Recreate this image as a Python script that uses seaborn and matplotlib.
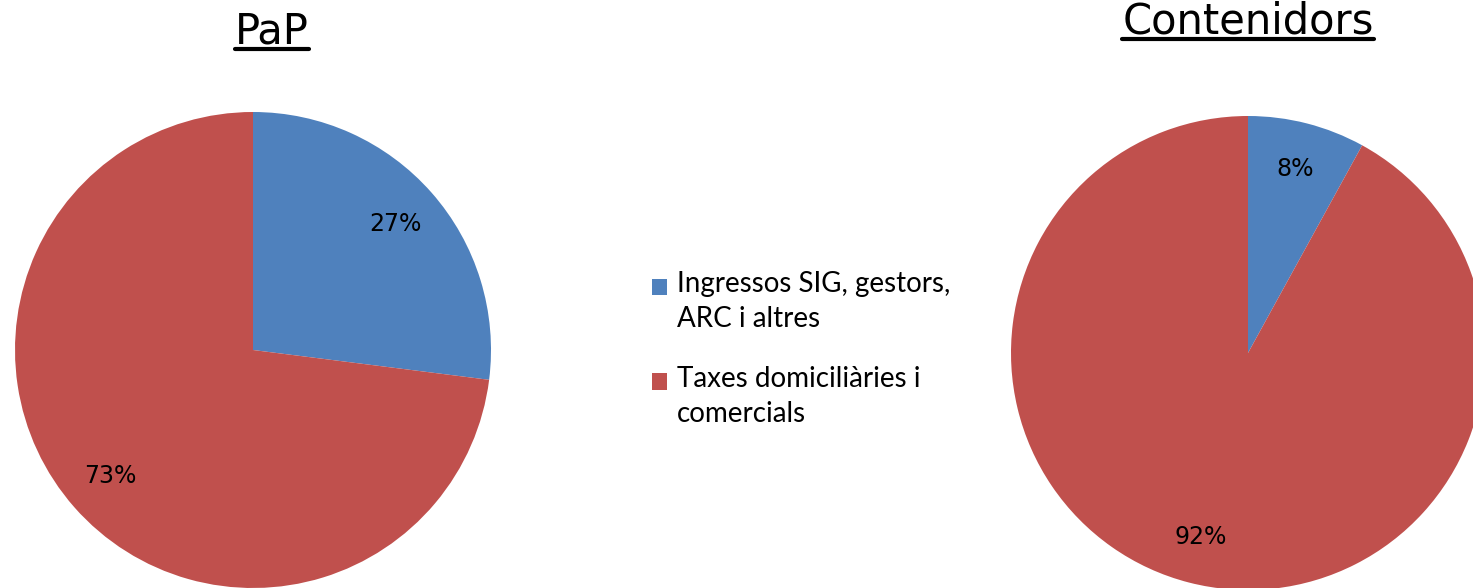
import matplotlib
matplotlib.use("Agg")
import matplotlib.pyplot as plt
from matplotlib.lines import Line2D
from matplotlib.patches import Rectangle, Wedge
from matplotlib.legend_handler import HandlerPatch
import seaborn as sns

# data
categories = ["Ingressos SIG, gestors,\nARC i altres", "Taxes domiciliàries i\ncomercials"]
titles = ["PaP", "Contenidors"]
pap_values = [27, 73]
contenidors_values = [8, 92]
colors = ["#4F81BD", "#C0504D"]

sns.set_theme(style="white")
plt.rcParams["font.family"] = ["DejaVu Sans"]

W, H = 1473, 588
fig = plt.figure(figsize=(W / 100, H / 100), dpi=100)


def px_axes(x0, y0, size):
    # x0, y0 = top-left corner in pixels (top-down), size in pixels
    return fig.add_axes([x0 / W, (H - y0 - size) / H, size / W, size / H])


ax1 = px_axes(15, 112, 476)
ax2 = px_axes(1011, 116, 474)

wedges = None
for ax, vals in [(ax1, pap_values), (ax2, contenidors_values)]:
    w, _, autotexts = ax.pie(vals, colors=colors, startangle=90, counterclock=False,
                             autopct="%d%%", pctdistance=0.8,
                             wedgeprops=dict(linewidth=0),
                             textprops=dict(fontsize=17, color="black"))
    ax.set_xlim(-1, 1)
    ax.set_ylim(-1, 1)
    ax.set_aspect("equal")
    ax.axis("off")
    if wedges is None:
        wedges = w

# titles with underline
title_specs = [(titles[0], 272, 43), (titles[1], 1248, 33)]
title_texts = []
for txt, cx, base in title_specs:
    t = fig.text(cx / W, 1 - base / H, txt, ha="center", va="baseline",
                 fontsize=30, color="black")
    title_texts.append((t, base))

fig.canvas.draw()
renderer = fig.canvas.get_renderer()
for t, base in title_texts:
    bb = t.get_window_extent(renderer)
    y = (H - base - 6) / H
    fig.add_artist(Line2D([bb.x0 / W, bb.x1 / W], [y, y], transform=fig.transFigure,
                          color="black", linewidth=3))


# square markers lined up with the first text line, like Excel does
def top_square(legend, orig_handle, xdescent, ydescent, width, height, fontsize):
    return Rectangle((-xdescent, -ydescent + 11), width, height)


leg = fig.legend(wedges, categories, loc="center left",
                 bbox_to_anchor=(638 / W, 1 - 349 / H), frameon=False,
                 prop=dict(family="Lato", size=20),
                 handlelength=0.55, handleheight=0.55, handletextpad=0.35,
                 labelspacing=1.2, borderpad=0,
                 handler_map={Wedge: HandlerPatch(patch_func=top_square)})
for t in leg.get_texts():
    t.set_linespacing(1.45)
    t.set_color("black")

fig.savefig("out.png", dpi=100)
